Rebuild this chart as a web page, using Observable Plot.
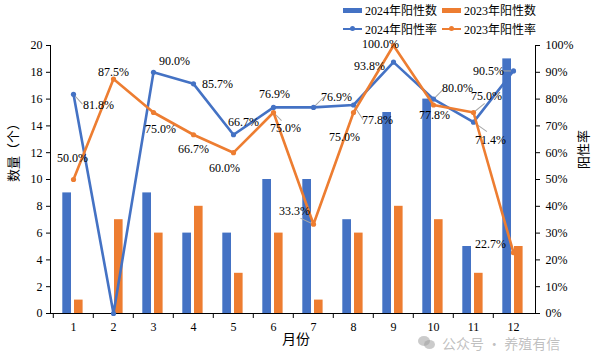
<!DOCTYPE html>
<html><head><meta charset="utf-8">
<script src="https://cdn.jsdelivr.net/npm/d3@7"></script>
<script src="https://cdn.jsdelivr.net/npm/@observablehq/plot@0.6"></script>
<style>
body{margin:0;background:#fff}
#wrap{position:relative;width:598px;height:355px;overflow:hidden;font-family:"Liberation Serif","Times New Roman","DejaVu Serif","Noto Sans CJK SC",serif;color:#000}
#legend{position:absolute;left:0;top:0;width:598px;height:40px;font-size:12px}
.li{position:absolute;display:flex;align-items:center;height:14px;white-space:nowrap}
.sw{width:19px;height:5px;margin-right:3px}
.ln{position:relative;width:19px;height:2px;margin-right:3px}
.ln i{position:absolute;left:7px;top:-2px;width:5px;height:5px;border-radius:50%}
#wm{position:absolute;left:418px;top:335px;display:flex;align-items:center;font-family:"Noto Sans CJK SC",sans-serif;font-size:14px;line-height:16px;color:rgba(150,150,150,0.6);white-space:nowrap}
#wm b{position:relative;display:inline-block;width:18px;height:14px;margin-right:6px}
#wm b i{position:absolute;border-radius:50%;background:rgba(160,160,160,0.55)}
</style></head><body>
<div id="wrap">
<div id="chart"></div>
<div id="legend"></div>
<div id="wm"><b><i style="left:0;top:0;width:12px;height:10px"></i><i style="left:6px;top:4px;width:11px;height:9px"></i></b>公众号 · 养殖有信</div>
</div>
<script>
const months = [1,2,3,4,5,6,7,8,9,10,11,12];
const count2024 = [9,0,9,6,6,10,10,7,15,16,5,19];
const count2023 = [1,7,6,8,3,6,1,6,8,7,3,5];
const rate2024 = [81.8,0,90.0,85.7,66.7,76.9,76.9,77.8,93.8,80.0,71.4,90.5];
const rate2023 = [50.0,87.5,75.0,66.7,60.0,75.0,33.3,75.0,100.0,77.8,75.0,22.7];
const seriesNames = ["2024年阳性数","2023年阳性数","2024年阳性率","2023年阳性率"];
const countTicks = [0,2,4,6,8,10,12,14,16,18,20];

// label pixel offsets (layout only)
const off2024 = [[25,11],null,[21,-11],[24,0],[10,-13],[1,-13],[23,-10],[24,15],[-24,4],[24,-11],[17,18],[-25,0]];
const off2023 = [[-1,-21],[0,-7],[7,17],[0,14],[-9,15],[12,16],[-19,-13],[-9,25],[-13,-1],[1,10],[13,-16],[-23,-9]];
// leader lines: [series, month index, angle (deg, clockwise from up), length px]
const leaders = [
  ["r24",0,138,13],["r24",6,45,14],["r24",7,147,17],["r24",9,45,13],["r24",10,125,16],["r24",11,270,11],
  ["r23",5,135,11],["r23",6,295,14],["r23",7,199,18],["r23",10,51,14]
];

const blue = "#4472C4", orange = "#ED7D31";
const rows = months.map((m,i)=>({month:m,c24:count2024[i],c23:count2023[i],r24:rate2024[i],r23:rate2023[i]}));
const bw = 485/12;
const fmt = v => v.toFixed(1) + "%";
const lineShape = {draw(context, l) { context.moveTo(0, 0); context.lineTo(0, -l); }};

const leaderMarks = leaders.map(([s,i,a,l]) =>
  Plot.vector([rows[i]],{x:"month",y:d=>d[s]/5,rotate:a,length:l,anchor:"start",shape:lineShape,stroke:"#a6a6a6",strokeWidth:1}));

const labelMarks = [];
rows.forEach((d,i)=>{
  if (off2024[i]) labelMarks.push(Plot.text([d],{x:"month",y:d=>d.r24/5,text:d=>fmt(d.r24),dx:off2024[i][0],dy:off2024[i][1],fill:"#000",fontSize:12}));
  if (off2023[i]) labelMarks.push(Plot.text([d],{x:"month",y:d=>d.r23/5,text:d=>fmt(d.r23),dx:off2023[i][0],dy:off2023[i][1],fill:"#000",fontSize:12}));
});

const chart = Plot.plot({
  width:598, height:355,
  marginLeft:50, marginRight:63, marginTop:45, marginBottom:42,
  style:{fontFamily:'"Liberation Serif","Times New Roman","DejaVu Serif","Noto Sans CJK SC",serif',fontSize:"12px",color:"#000",background:"transparent"},
  x:{type:"band",domain:months,padding:0},
  y:{domain:[0,20]},
  marks:[
    Plot.barY(rows,{x:"month",y:"c24",fill:blue,insetLeft:9.3,insetRight:22}),
    Plot.barY(rows,{x:"month",y:"c23",fill:orange,insetLeft:21,insetRight:10.4}),
    Plot.frame({anchor:"left",stroke:"#000"}),
    Plot.frame({anchor:"right",stroke:"#000"}),
    Plot.frame({anchor:"bottom",stroke:"#000"}),
    Plot.axisX({tickSize:0,tickPadding:9,label:null,fontSize:12}),
    Plot.axisX({tickSize:5,text:null,label:null,dx:-bw/2}),
    Plot.axisY({anchor:"left",ticks:countTicks,tickSize:4,tickPadding:4,label:null,fontSize:12}),
    Plot.axisY({anchor:"right",ticks:countTicks,tickSize:4,tickPadding:6,tickFormat:d=>(d*5)+"%",label:null,fontSize:12}),
    ...leaderMarks,
    Plot.lineY(rows,{x:"month",y:d=>d.r24/5,stroke:blue,strokeWidth:2.6}),
    Plot.dot(rows,{x:"month",y:d=>d.r24/5,r:2.6,fill:blue}),
    Plot.lineY(rows,{x:"month",y:d=>d.r23/5,stroke:orange,strokeWidth:2.6}),
    Plot.dot(rows,{x:"month",y:d=>d.r23/5,r:2.6,fill:orange}),
    ...labelMarks,
    Plot.text(["数量（个）"],{frameAnchor:"left",dx:-37,dy:-30,rotate:-90,textAnchor:"middle",fontSize:13,fill:"#000"}),
    Plot.text(["阳性率"],{frameAnchor:"right",dx:48,dy:-30,rotate:-90,textAnchor:"middle",fontSize:13,fill:"#000"}),
    Plot.text(["月份"],{frameAnchor:"bottom",dx:3,dy:30,textAnchor:"middle",fontSize:14,fill:"#000"})
  ]
});
document.getElementById("chart").appendChild(chart);

const leg = document.getElementById("legend");
const items = [
  {name:seriesNames[0],color:blue,type:"bar",x:343,y:3},
  {name:seriesNames[1],color:orange,type:"bar",x:442,y:3},
  {name:seriesNames[2],color:blue,type:"line",x:343,y:22},
  {name:seriesNames[3],color:orange,type:"line",x:442,y:22}
];
items.forEach(it=>{
  const el = document.createElement("div");
  el.className = "li";
  el.style.left = it.x + "px"; el.style.top = it.y + "px";
  if (it.type==="bar") el.innerHTML = `<span class="sw" style="background:${it.color}"></span><span>${it.name}</span>`;
  else el.innerHTML = `<span class="ln" style="background:${it.color}"><i style="background:${it.color}"></i></span><span>${it.name}</span>`;
  leg.appendChild(el);
});
</script>
</body></html>
